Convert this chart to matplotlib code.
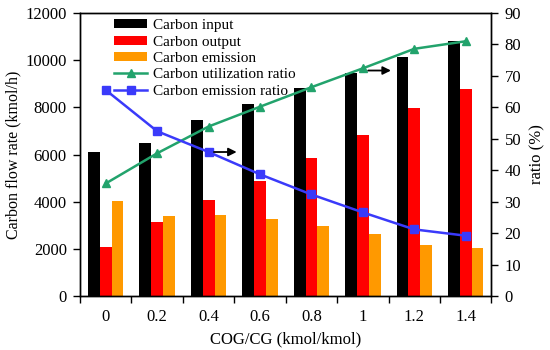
"""Carbon flow rates and ratios versus COG/CG ratio."""

import matplotlib

matplotlib.use("Agg")
import matplotlib.pyplot as plt
import numpy as np

plt.rcParams["font.family"] = ["Liberation Serif", "DejaVu Serif"]
plt.rcParams["font.size"] = 12

# values
cog_cg = ["0", "0.2", "0.4", "0.6", "0.8", "1", "1.2", "1.4"]
carbon_input = [6120, 6500, 7470, 8150, 8820, 9470, 10150, 10830]
carbon_output = [2100, 3120, 4070, 4870, 5850, 6820, 7990, 8790]
carbon_emission = [4030, 3400, 3420, 3260, 2990, 2650, 2170, 2040]
utilization_ratio = [35.8, 45.4, 53.9, 60.2, 66.4, 72.4, 78.6, 81.0]
emission_ratio = [65.5, 52.4, 45.8, 38.7, 32.3, 26.6, 21.2, 19.2]

GREEN = "#22a36c"
BLUE = "#3a3afa"
ORANGE = "#ff9900"

x = np.arange(len(cog_cg))
width = 0.23

fig = plt.figure(figsize=(5.5, 3.5), dpi=100)
ax = fig.add_axes([0.1455, 0.154, 0.748, 0.809])
ax2 = ax.twinx()

b1 = ax.bar(x - width, carbon_input, width, color="black", label="Carbon input")
b2 = ax.bar(x, carbon_output, width, color="red", label="Carbon output")
b3 = ax.bar(x + width, carbon_emission, width, color=ORANGE, label="Carbon emission")

(l1,) = ax2.plot(x, utilization_ratio, color=GREEN, lw=1.8, marker="^", ms=6,
                 label="Carbon utilization ratio")
(l2,) = ax2.plot(x, emission_ratio, color=BLUE, lw=1.8, marker="s", ms=6,
                 label="Carbon emission ratio")

# arrows telling which axis the lines belong to
arrow = dict(arrowstyle="-|>", color="black", lw=1.3, mutation_scale=12)
ax2.annotate("", xy=(2.6, emission_ratio[2]), xytext=(2.05, emission_ratio[2]),
             arrowprops=arrow)
ax2.annotate("", xy=(5.6, utilization_ratio[5] - 0.7),
             xytext=(5.05, utilization_ratio[5] - 0.7), arrowprops=arrow)

ax.set_xlim(-0.5, len(cog_cg) - 0.5)
ax.set_ylim(0, 12000)
ax.set_yticks(np.arange(0, 12001, 2000))
ax2.set_ylim(0, 90)
ax2.set_yticks(np.arange(0, 91, 10))

ax.set_xticks(x)
ax.set_xticklabels(cog_cg)
ax.set_xticks(np.arange(-0.5, len(cog_cg), 1.0), minor=True)
ax.tick_params(axis="x", which="major", length=0, pad=9)
ax.tick_params(axis="x", which="minor", length=5, width=1, direction="out")
ax.tick_params(axis="y", length=5, width=1, direction="out", pad=4.5)
ax2.tick_params(axis="y", length=5, width=1, direction="out", pad=4.5)

ax.set_xlabel("COG/CG (kmol/kmol)", labelpad=5)
ax.set_ylabel("Carbon flow rate (kmol/h)", fontsize=11.5, labelpad=3)
ax2.set_ylabel("ratio (%)", labelpad=6)

for a in (ax, ax2):
    for spine in a.spines.values():
        spine.set_linewidth(1)

ax2.legend([b1, b2, b3, l1, l2],
           [h.get_label() for h in (b1, b2, b3, l1, l2)],
           loc="upper left", bbox_to_anchor=(0.06, 1.01), frameon=False,
           fontsize=11, handlelength=2.2, handleheight=0.55, handletextpad=0.35,
           labelspacing=0.22, borderaxespad=0.2)

fig.savefig("out.png", dpi=100)
